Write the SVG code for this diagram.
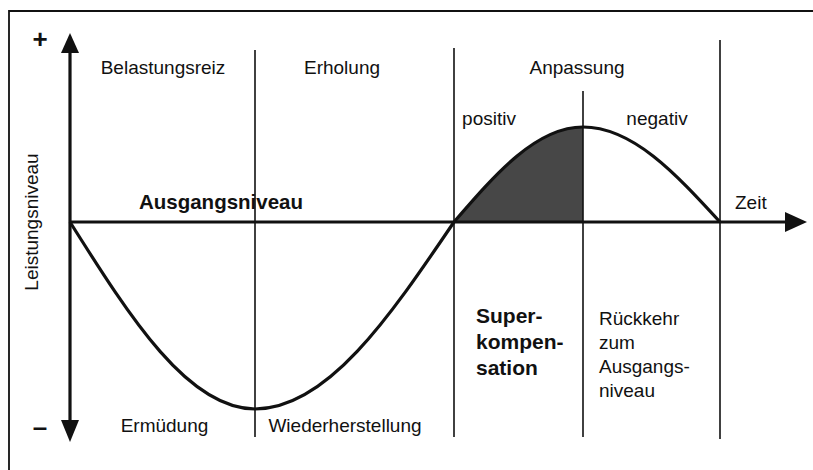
<svg xmlns="http://www.w3.org/2000/svg" width="813" height="470" viewBox="0 0 813 470">
  <style>
    text { font-family: "Liberation Sans", Arial, sans-serif; fill: #111; }
    .lbl { font-size: 19px; }
    .bold { font-size: 21px; font-weight: bold; }
    .div { stroke: #111; stroke-width: 1.6; fill: none; }
    .axis { stroke: #111; stroke-width: 3.2; fill: none; }
    .curve { stroke: #111; stroke-width: 3.2; fill: none; }
  </style>
  <defs>
    <marker id="arr" viewBox="0 0 10 10" refX="9" refY="5" markerWidth="7" markerHeight="7" markerUnits="strokeWidth" orient="auto">
      <path d="M0,0 L10,5 L0,10 z" fill="#111"/>
    </marker>
  </defs>
  <rect width="813" height="470" fill="#fff"/>
  <!-- frame (only top and left edges visible) -->
  <path d="M9,480 L9,11 L820,11" stroke="#111" stroke-width="1.8" fill="none"/>

  <g id="shaded">
    <path d="M454,222 C496.1,173.3 536.3,127 583,127 L583,222 Z" fill="#474747"/>
  </g>

  <g id="dividers">
    <line class="div" x1="255" y1="50" x2="255" y2="437"/>
    <line class="div" x1="454" y1="48" x2="454" y2="437"/>
    <line class="div" x1="583" y1="91" x2="583" y2="437"/>
    <line class="div" x1="720" y1="40" x2="720" y2="439"/>
  </g>

  <g id="connectors">
    <line class="axis" x1="70" y1="222" x2="70" y2="52" stroke-width="3.6"/>
    <path d="M70,33 L61,53 L79,53 Z" fill="#111"/>
    <line class="axis" x1="70" y1="222" x2="70" y2="420" stroke-width="3.6"/>
    <path d="M70,442 L61,420 L79,420 Z" fill="#111"/>
    <line class="axis" x1="70" y1="222" x2="786" y2="222"/>
    <path d="M807,222 L785,212 L785,232 Z" fill="#111"/>
    <path class="curve" d="M70,222 C130.3,317.8 188.1,409 255,409 C327,409 389.1,317.8 454,222 C496.1,173.3 536.3,127 583,127 C632.6,127 675.3,173.3 720,222"/>
  </g>

  <g id="signs">
    <text x="40" y="48" text-anchor="middle" style="font-size:26px;font-weight:bold">+</text>
    <text x="40" y="436" text-anchor="middle" style="font-size:26px;font-weight:bold">–</text>
  </g>

  <g id="axis-labels">
    <text class="lbl" transform="translate(38,222) rotate(-90)" text-anchor="middle">Leistungsniveau</text>
    <text x="735" y="209" class="lbl">Zeit</text>
    <text x="221" y="209" text-anchor="middle" style="font-size:20.5px;font-weight:bold">Ausgangsniveau</text>
  </g>

  <g id="phase-labels">
    <text x="163" y="74" class="lbl" text-anchor="middle">Belastungsreiz</text>
    <text x="342" y="74" class="lbl" text-anchor="middle">Erholung</text>
    <text x="577" y="74" class="lbl" text-anchor="middle">Anpassung</text>
    <text x="489" y="125" class="lbl" text-anchor="middle">positiv</text>
    <text x="657" y="125" class="lbl" text-anchor="middle">negativ</text>
    <text x="164.5" y="432" class="lbl" text-anchor="middle">Ermüdung</text>
    <text x="345" y="432" class="lbl" text-anchor="middle">Wiederherstellung</text>
  </g>

  <g id="superkompensation">
    <text class="bold" x="476" y="323">Super-</text>
    <text class="bold" x="476" y="349">kompen-</text>
    <text class="bold" x="476" y="375">sation</text>
  </g>

  <g id="rueckkehr">
    <text class="lbl" x="599" y="325">Rückkehr</text>
    <text class="lbl" x="599" y="349">zum</text>
    <text class="lbl" x="599" y="373">Ausgangs-</text>
    <text class="lbl" x="599" y="397">niveau</text>
  </g>
</svg>
